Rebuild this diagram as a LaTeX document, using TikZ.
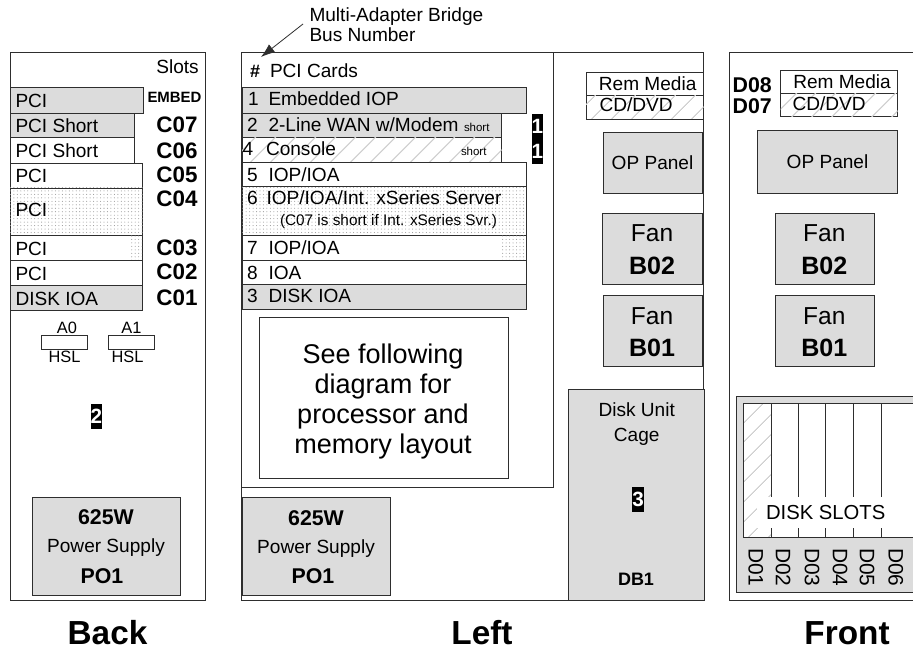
\documentclass[tikz,border=0pt]{standalone}
\usepackage{fontspec}
\setmainfont{Liberation Sans}
\usetikzlibrary{patterns.meta,arrows.meta}
\definecolor{boxgray}{HTML}{DCDCDC}
\definecolor{lineink}{HTML}{2E2E2E}
\definecolor{hatchgray}{HTML}{CFCFCF}
\tikzset{
  panel/.style={draw=lineink,line width=.75pt},
  box/.style={draw=lineink,line width=.7pt,inner sep=0pt,outer sep=0pt},
  gray box/.style={box,fill=boxgray},
  white box/.style={box,fill=white},
  dot box/.style={box,fill=white,postaction={pattern={Dots[distance=2.6pt,radius=.4pt]},pattern color=black!40}},
  hatch box/.style={box,fill=white,postaction={pattern={Lines[angle=45,distance=10.5pt,line width=.9pt]},pattern color=hatchgray}},
  hatch fill/.style={pattern={Lines[angle=45,distance=10.5pt,line width=.9pt]},pattern color=hatchgray},
  badge/.style={fill=black,text=white,inner sep=0pt,font=\bfseries\fontsize{15.5}{18}\selectfont},
  txt/.style={inner sep=0pt,outer sep=0pt,text=black},
  s11/.style={txt,font=\fontsize{8.6}{10}\selectfont},
  s15/.style={txt,font=\fontsize{11.5}{14}\selectfont},
  s16/.style={txt,font=\fontsize{12.3}{15}\selectfont},
  s19/.style={txt,font=\fontsize{14.3}{17}\selectfont},
  s27/.style={txt,font=\fontsize{20.3}{24}\selectfont},
  s24/.style={txt,font=\fontsize{18.4}{22}\selectfont},
  bb15/.style={txt,font=\bfseries\fontsize{11.2}{14}\selectfont},
  bb18/.style={txt,font=\bfseries\fontsize{13.5}{16}\selectfont},
  bb21/.style={txt,font=\bfseries\fontsize{16}{19}\selectfont},
  bb22/.style={txt,font=\bfseries\fontsize{16.8}{20}\selectfont},
  bb25/.style={txt,font=\bfseries\fontsize{18.8}{22}\selectfont},
  title/.style={txt,font=\bfseries\fontsize{25}{30}\selectfont},
}
% \bx{name}{x1}{y1}{x2}{y2}{style}
\newcommand\bx[6]{%
  \pgfmathsetmacro\bxw{(#4-#2)*.75}\pgfmathsetmacro\bxh{(#5-#3)*.75}%
  \pgfmathsetmacro\bxc{(#2+#4)/2}\pgfmathsetmacro\bxd{(#3+#5)/2}%
  \node[#6,minimum width=\bxw pt,minimum height=\bxh pt] (#1) at (\bxc,\bxd) {};}
% \tl{name}{x}{baseline}{style}{text}: left aligned; \tc: centred
\newcommand\tl[5]{\node[#4,anchor=base west] (#1) at (#2,#3) {#5};}
\newcommand\tc[5]{\node[#4,anchor=base] (#1) at (#2,#3) {#5};}
\begin{document}
\begin{tikzpicture}[x=.75pt,y=-.75pt]
\useasboundingbox (0,0) rectangle (913,652);
\fill[white] (0,0) rectangle (913,652);

% ---------- Back ----------
\bx{backpanel}{10}{53}{205}{600}{panel}
\tc{slots}{177.5}{74}{s19}{Slots}
\bx{bEmbed}{10}{87}{143.5}{113}{gray box}
\bx{bC07}{10}{113}{134.5}{137.5}{gray box}
\bx{bC06}{10}{137.5}{134.5}{163}{white box}
\bx{bC05}{10}{163}{142.5}{188}{white box}
\bx{bC04}{10}{188}{142.5}{235}{dot box}
\bx{bC03}{10}{235}{142.5}{260}{white box}
\bx{bC03dots}{130}{236}{142}{259}{dot box,draw=none}
\bx{bC02}{10}{260}{142.5}{285}{white box}
\bx{bC01}{10}{285}{142.5}{310}{gray box}
\tl{tb1}{15.5}{107.5}{s19}{PCI}
\tl{tb2}{15.5}{133}{s19}{PCI Short}
\tl{tb3}{15.5}{158}{s19}{PCI Short}
\tl{tb4}{15.5}{182.5}{s19}{PCI}
\tl{tb5}{15.5}{217}{s19}{PCI}
\tl{tb6}{15.5}{255}{s19}{PCI}
\tl{tb7}{15.5}{280}{s19}{PCI}
\tl{tb8}{15.5}{305}{s19}{DISK IOA}
\tc{cE}{174.5}{102.7}{bb15}{EMBED}
\tc{c7}{177}{132.7}{bb22}{C07}
\tc{c6}{177}{159}{bb22}{C06}
\tc{c5}{177}{182.7}{bb22}{C05}
\tc{c4}{177}{206.7}{bb22}{C04}
\tc{c3}{177}{255}{bb22}{C03}
\tc{c2}{177}{279}{bb22}{C02}
\tc{c1}{177}{305}{bb22}{C01}
\tc{a0}{67}{333}{s16}{A0}
\tc{a1}{131.5}{333}{s16}{A1}
\bx{hslA}{41.3}{335}{87}{349}{white box}
\bx{hslB}{108.5}{335}{154.5}{349}{white box}
\tc{hsl0}{64.5}{362.7}{s16}{HSL}
\tc{hsl1}{127.5}{362.7}{s16}{HSL}
\bx{badgeTwo}{90.5}{404}{102}{429}{badge}
\node[badge,fill=none] (two) at (badgeTwo) {2};
\bx{bpsu}{32.5}{497}{180}{595}{gray box}
\tc{bp1}{106}{524}{bb21}{625W}
\tc{bp2}{106}{552.7}{s19}{Power Supply}
\tc{bp3}{102}{583}{bb21}{PO1}
\tc{back}{107.5}{644.5}{title}{Back}

% ---------- Left ----------
\bx{leftpanel}{241.5}{53}{703.5}{600}{panel}
\bx{leftinner}{241.5}{53}{553}{487.5}{panel}
\tl{hash}{250}{78}{bb18}{\#}
\tl{cards}{270}{78}{s19}{PCI Cards}
\bx{r1}{242}{87.7}{526}{113}{gray box}
\bx{r2}{242}{113}{501.5}{137.5}{gray box}
\bx{r4}{242}{137.5}{501.5}{162}{hatch box}
\bx{r5}{242}{162}{526}{186.5}{white box}
\bx{r6}{242}{186.5}{526}{235}{dot box}
\bx{r7}{242}{235}{526}{260}{white box}
\bx{r7dots}{501.7}{236}{525.5}{259}{dot box,draw=none}
\bx{r8}{242}{260}{526}{284}{white box}
\bx{r3}{242}{284}{526}{309}{gray box}
\tl{n1}{248}{106}{s19}{1}
\tl{l1}{268.5}{106}{s19}{Embedded IOP}
\tl{n2}{247}{132}{s19}{2}
\tl{l2}{268.5}{132}{s19}{2-Line WAN w/Modem}
\tl{sh2}{464}{132}{s11}{short}
\tl{n4}{242.5}{155.7}{s19}{4}
\tl{l4}{266}{155.7}{s19}{Console}
\tl{sh4}{461}{155.7}{s11}{short}
\tl{n5}{247}{181.7}{s19}{5}
\tl{l5}{268.5}{181.7}{s19}{IOP/IOA}
\tl{n6}{247}{205}{s19}{6}
\tl{l6}{266.5}{205}{s19}{IOP/IOA/Int. xSeries Server}
\tl{l6b}{280}{226}{s15}{(C07 is short if Int. xSeries Svr.)}
\tl{n7}{247}{254}{s19}{7}
\tl{l7}{268.5}{254}{s19}{IOP/IOA}
\tl{n8}{247}{279}{s19}{8}
\tl{l8}{268.5}{279}{s19}{IOA}
\tl{n3}{247}{302.7}{s19}{3}
\tl{l3}{268.5}{302.7}{s19}{DISK IOA}
\bx{badgeA}{531.7}{114}{543}{138.5}{badge}
\node[badge,fill=none] (oneA) at (badgeA) {1};
\bx{badgeB}{531.7}{138.5}{543}{164}{badge}
\node[badge,fill=none] (oneB) at (badgeB) {1};
\bx{seebox}{259}{317.5}{508.5}{478}{white box}
\tc{see1}{383}{363}{s27}{See following}
\tc{see2}{383}{393}{s27}{diagram for}
\tc{see3}{383}{423}{s27}{processor and}
\tc{see4}{383}{453}{s27}{memory layout}
\bx{lpsu}{242.5}{497}{390.5}{595}{gray box}
\tc{lp1}{316}{525}{bb21}{625W}
\tc{lp2}{316}{553}{s19}{Power Supply}
\tc{lp3}{313}{583}{bb21}{PO1}
\tc{left}{482}{644.5}{title}{Left}

\bx{lrem}{586}{72.7}{703.5}{95.5}{white box}
\bx{lcd}{586}{95.5}{703.5}{119}{hatch box}
\tc{lremt}{647.7}{90.7}{s19}{Rem Media}
\tl{lcdt}{599.5}{112}{s19}{CD/DVD}
\bx{lop}{603.3}{132}{702.5}{193}{gray box}
\tc{lopt}{652.5}{170}{s19}{OP Panel}
\bx{lf2}{602.7}{213}{702.5}{284.7}{gray box}
\tc{lf2a}{652}{241.7}{s24}{Fan}
\tc{lf2b}{652}{274}{bb25}{B02}
\bx{lf1}{603.3}{295.7}{702.5}{366.5}{gray box}
\tc{lf1a}{652}{324}{s24}{Fan}
\tc{lf1b}{652}{356.7}{bb25}{B01}
\bx{cage}{568.3}{389.3}{704}{600}{gray box}
\tc{cage1}{636.7}{416.7}{s19}{Disk Unit}
\tc{cage2}{636.7}{441}{s19}{Cage}
\bx{badgeThree}{632}{487}{644}{512}{badge}
\node[badge,fill=none] (three) at (badgeThree) {3};
\tc{db1}{636}{585.7}{bb18}{DB1}

% bus number callout
\tl{bus1}{309.5}{21.7}{s19}{Multi-Adapter Bridge}
\tl{bus2}{309.5}{41.7}{s19}{Bus Number}
\coordinate (bustail) at (303,24);
\coordinate (bushead) at (261,57);
\draw[line width=.6pt,draw=lineink,-{Latex[length=10.5pt,width=7.5pt]}] (bustail) -- (bushead);

% ---------- Front ----------
\draw[panel] (913,53) -- (729,53) -- (729,600) -- (913,600);
\tl{d8}{732.7}{92.3}{bb21}{D08}
\tl{d7}{732.7}{114}{bb21}{D07}
\bx{frem}{780.7}{70.7}{897.7}{93.5}{white box}
\bx{fcd}{780.7}{93.5}{897.7}{116.7}{hatch box}
\tc{fremt}{842}{88.3}{s19}{Rem Media}
\tl{fcdt}{792.5}{111}{s19}{CD/DVD}
\bx{fop}{757.3}{130}{897}{193}{gray box}
\tc{fopt}{827.5}{169}{s19}{OP Panel}
\bx{ff2}{775}{213}{874.7}{284.7}{gray box}
\tc{ff2a}{824.3}{241.7}{s24}{Fan}
\tc{ff2b}{824.3}{274}{bb25}{B02}
\bx{ff1}{775}{295.7}{874.7}{366.5}{gray box}
\tc{ff1a}{824.3}{324}{s24}{Fan}
\tc{ff1b}{824.3}{356.7}{bb25}{B01}
% disk slot assembly runs off the right edge
\fill[boxgray] (736,396) rectangle (913,592.7);
\draw[box] (913,396) -- (736,396) -- (736,592.7) -- (913,592.7);
\fill[white] (743.3,403.3) rectangle (913,537.3);
\fill[hatch fill] (743.3,403.3) rectangle (771,537.3);
\draw[box] (913,403.3) -- (743.3,403.3) -- (743.3,537.3) -- (913,537.3);
\draw[box] (771,403.3) -- (771,537.3) (798.5,403.3) -- (798.5,537.3) (825.7,403.3) -- (825.7,537.3)
           (853,403.3) -- (853,537.3) (881,403.3) -- (881,537.3);
\bx{dsbg}{756.7}{497}{913}{528}{fill=white,inner sep=0pt}
\tc{dst}{825.7}{519}{txt,font=\fontsize{15.2}{18}\selectfont}{DISK SLOTS}
\foreach \nm/\xx in {D01/755.7,D02/783,D03/812,D04/840,D05/867,D06/895.7}{
  \node[txt,font=\fontsize{15.7}{18}\selectfont,rotate=-90,anchor=west] (\nm) at (\xx,548) {\nm};
}
\tc{front}{847}{644.5}{title}{Front}
\end{tikzpicture}
\end{document}
